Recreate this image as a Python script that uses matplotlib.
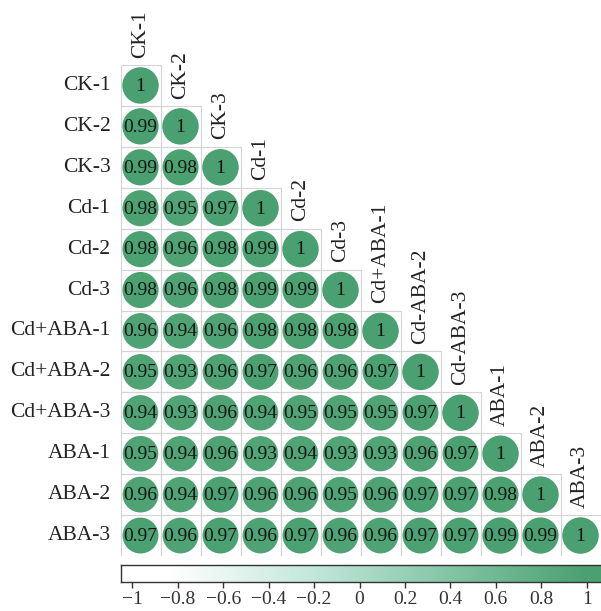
import numpy as np
import matplotlib.pyplot as plt
from matplotlib.colors import LinearSegmentedColormap
from matplotlib.patches import Rectangle

plt.rcParams['font.family'] = ['Liberation Serif', 'DejaVu Serif']

row_labels = ['CK-1', 'CK-2', 'CK-3', 'Cd-1', 'Cd-2', 'Cd-3',
              'Cd+ABA-1', 'Cd+ABA-2', 'Cd+ABA-3', 'ABA-1', 'ABA-2', 'ABA-3']
col_labels = ['CK-1', 'CK-2', 'CK-3', 'Cd-1', 'Cd-2', 'Cd-3',
              'Cd+ABA-1', 'Cd-ABA-2', 'Cd-ABA-3', 'ABA-1', 'ABA-2', 'ABA-3']

# lower triangle of the correlation matrix, row by row
corr_rows = [
    [1],
    [0.99, 1],
    [0.99, 0.98, 1],
    [0.98, 0.95, 0.97, 1],
    [0.98, 0.96, 0.98, 0.99, 1],
    [0.98, 0.96, 0.98, 0.99, 0.99, 1],
    [0.96, 0.94, 0.96, 0.98, 0.98, 0.98, 1],
    [0.95, 0.93, 0.96, 0.97, 0.96, 0.96, 0.97, 1],
    [0.94, 0.93, 0.96, 0.94, 0.95, 0.95, 0.95, 0.97, 1],
    [0.95, 0.94, 0.96, 0.93, 0.94, 0.93, 0.93, 0.96, 0.97, 1],
    [0.96, 0.94, 0.97, 0.96, 0.96, 0.95, 0.96, 0.97, 0.97, 0.98, 1],
    [0.97, 0.96, 0.97, 0.96, 0.97, 0.96, 0.96, 0.97, 0.97, 0.99, 0.99, 1],
]
cbar_ticks = [-1, -0.8, -0.6, -0.4, -0.2, 0, 0.2, 0.4, 0.6, 0.8, 1]
cbar_ticklabels = ['\u22121', '\u22120.8', '\u22120.6', '\u22120.4', '\u22120.2',
                   '0', '0.2', '0.4', '0.6', '0.8', '1']

cmap = LinearSegmentedColormap.from_list(
    'wg', [(0.0, '#ffffff'), (0.08, '#ffffff'), (0.4, '#c2e7d9'),
           (0.6, '#97d0b7'), (1.0, '#4aa070')])

W, H = 601, 611
fig = plt.figure(figsize=(W / 100, H / 100), dpi=100)
n = len(row_labels)

ax = fig.add_axes([120.5 / W, (H - 556) / H, 480 / W, 491 / H])
ax.set_xlim(0, n)
ax.set_ylim(n, 0)
ax.axis('off')

xs, ys, vals = [], [], []
for i, row in enumerate(corr_rows):
    for j, v in enumerate(row):
        ax.add_patch(Rectangle((j, i), 1, 1, fill=False, edgecolor='#d6d3d6', lw=0.8, zorder=1))
        xs.append(j + 0.5)
        ys.append(i + 0.5)
        vals.append(v)
        txt = '1' if v == 1 else '%.2f' % v
        ax.text(j + 0.5, i + 0.52, txt, ha='center', va='center',
                fontsize=14, color='#151515', zorder=3)

vals = np.array(vals)
ax.scatter(xs, ys, s=690 * np.abs(vals), c=vals, cmap=cmap, vmin=-1, vmax=1,
           edgecolors='none', zorder=2)

for i, lab in enumerate(row_labels):
    ax.text(-0.25, i + 0.5, lab, ha='right', va='center', fontsize=15.5, color='#222222')
for j, lab in enumerate(col_labels):
    ax.text(j + 0.5, j - 0.18, lab, ha='center', va='bottom', rotation=90,
            fontsize=15.5, color='#222222')

# colour bar along the bottom
cax = fig.add_axes([120.5 / W, (H - 582) / H, 481 / W, 17.5 / H])
lo, hi = -1.052, 1.065
grad = np.clip(np.linspace(lo, hi, 500), -1, 1)[None, :]
cax.imshow(grad, cmap=cmap, vmin=-1, vmax=1, aspect='auto',
           extent=(lo, hi, 0, 1))
cax.set_xlim(lo, hi)
cax.set_yticks([])
cax.set_xticks(cbar_ticks)
cax.set_xticklabels(cbar_ticklabels, fontsize=14, color='#333333')
cax.tick_params(axis='x', length=4, width=1, color='#333333', pad=2.5)
for sp in cax.spines.values():
    sp.set_linewidth(1.0)
    sp.set_color('#333333')

fig.savefig('out.png', dpi=100, facecolor='white')
